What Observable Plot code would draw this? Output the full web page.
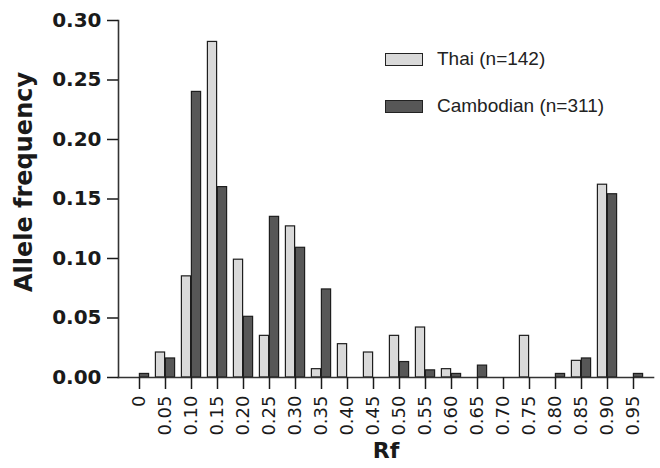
<!DOCTYPE html>
<html><head><meta charset="utf-8">
<script src="https://cdn.jsdelivr.net/npm/d3@7"></script>
<script src="https://cdn.jsdelivr.net/npm/@observablehq/plot@0.6"></script>
<style>
body{margin:0;background:#fff;}
#wrap{position:relative;width:660px;height:468px;}
.legend{position:absolute;left:385px;top:48px;font-family:"Liberation Sans",Arial,sans-serif;font-size:19px;color:#222;}
.legend .row{display:flex;align-items:center;height:22px;margin-bottom:25px;white-space:nowrap;}
.legend .sw{width:36px;height:11px;border:1.3px solid #222;margin-right:14px;}
</style></head><body><div id="wrap"></div>
<script>
const rf = ["0","0.05","0.10","0.15","0.20","0.25","0.30","0.35","0.40","0.45","0.50","0.55","0.60","0.65","0.70","0.75","0.80","0.85","0.90","0.95"];
const thai =      [0, 0.021, 0.085, 0.282, 0.099, 0.035, 0.127, 0.007, 0.028, 0.021, 0.035, 0.042, 0.007, 0, 0, 0.035, 0, 0.014, 0.162, 0];
const cambodian = [0.003, 0.016, 0.240, 0.160, 0.051, 0.135, 0.109, 0.074, 0, 0, 0.013, 0.006, 0.003, 0.010, 0, 0, 0.003, 0.016, 0.154, 0.003];
const yTicks = [0, 0.05, 0.10, 0.15, 0.20, 0.25, 0.30];
const series = ["Thai (n=142)", "Cambodian (n=311)"];
const colors = ["#d9d9d9", "#575757"];
const yTitle = "Allele frequency";
const xTitle = "Rf";

const thaiRows = rf.map((r, i) => ({rf: r, series: series[0], value: thai[i]})).filter(d => d.value > 0);
const cambRows = rf.map((r, i) => ({rf: r, series: series[1], value: cambodian[i]})).filter(d => d.value > 0);

const chart = Plot.plot({
  width: 660, height: 468,
  marginLeft: 118, marginRight: 7, marginTop: 20, marginBottom: 91,
  style: {fontFamily: "DejaVu Sans", color: "#1a1a1a", background: "transparent"},
  x: {domain: rf, padding: 0, label: null},
  y: {domain: [0, 0.30], label: null},
  color: {domain: series, range: colors},
  marks: [
    Plot.barY(thaiRows, {x: "rf", y: "value", fill: "series", stroke: "#1e1e1e", strokeWidth: 1.2, insetLeft: 3.4, insetRight: 13.4}),
    Plot.barY(cambRows, {x: "rf", y: "value", fill: "series", stroke: "#1e1e1e", strokeWidth: 1.2, insetLeft: 13.4, insetRight: 3.4}),
    Plot.frame({anchor: "left", stroke: "#333", strokeWidth: 1.6}),
    Plot.frame({anchor: "bottom", stroke: "#333", strokeWidth: 1.6}),
    Plot.axisY({ticks: yTicks, tickFormat: d3.format(".2f"), tickSize: 11, tickPadding: 6, fontSize: 20, fontWeight: "bold", label: null, strokeWidth: 1.5}),
    Plot.axisX({tickSize: 12, tickPadding: 6, tickRotate: -90, fontSize: 18, label: null, strokeWidth: 1.5}),
    Plot.text([yTitle], {frameAnchor: "left", textAnchor: "middle", lineAnchor: "middle", rotate: -90, dx: -94, dy: -17, fontSize: 24, fontWeight: "bold"}),
    Plot.text([xTitle], {frameAnchor: "bottom", lineAnchor: "middle", dy: 73, fontSize: 22, fontWeight: "bold"})
  ]
});

const wrap = document.getElementById("wrap");
wrap.appendChild(chart);
const legend = document.createElement("div");
legend.className = "legend";
series.forEach((s, i) => {
  const row = document.createElement("div");
  row.className = "row";
  const sw = document.createElement("div");
  sw.className = "sw";
  sw.style.background = colors[i];
  const t = document.createElement("span");
  t.textContent = s;
  row.appendChild(sw); row.appendChild(t);
  legend.appendChild(row);
});
wrap.appendChild(legend);
</script></body></html>
